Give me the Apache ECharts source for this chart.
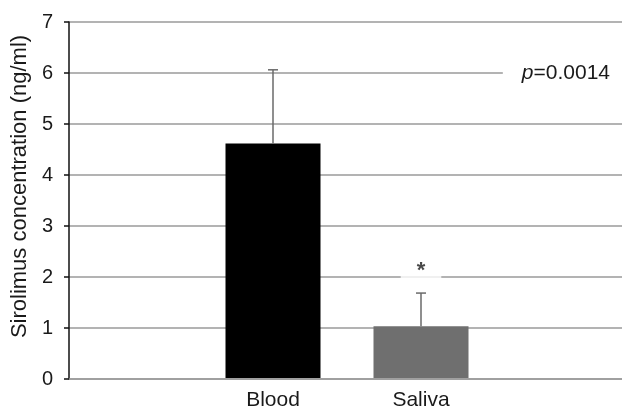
<!DOCTYPE html>
<html><head><meta charset="utf-8">
<script src="https://cdn.jsdelivr.net/npm/echarts@6/dist/echarts.min.js"></script>
<style>html,body{margin:0;padding:0;background:#fff}#c{width:622px;height:411px}</style>
</head><body><div id="c"></div>
<script>
var categories = ['Blood', 'Saliva'];
var means = [4.61, 1.02];
var upperErrors = [6.06, 1.67];
var barColors = ['#000000', '#6f6f6f'];
var yTicks = [0, 1, 2, 3, 4, 5, 6, 7];
var yTitle = 'Sirolimus concentration (ng/ml)';
var significance = ['', '*'];
var significanceLevel = 2.1;
var pText = 'p=0.0014';

var FONT = '"Liberation Sans", Arial, sans-serif';
var TXT = '#1a1a1a';
var chart = echarts.init(document.getElementById('c'), null, {renderer: 'canvas'});

var option = {
  animation: false,
  backgroundColor: '#ffffff',
  grid: [
    {left: 69, right: 0, top: 22, bottom: 32},
    {left: 199, width: 296, top: 22, bottom: 32}
  ],
  xAxis: [
    {gridIndex: 0, type: 'value', min: 0, max: 1, show: true,
     axisLine: {show: true, lineStyle: {color: '#9a9a9a', width: 1.5}},
     axisTick: {show: false}, axisLabel: {show: false}, splitLine: {show: false}},
    {gridIndex: 1, type: 'category', data: categories,
     axisLine: {show: false}, axisTick: {show: false},
     axisLabel: {color: TXT, fontFamily: FONT, fontSize: 21, margin: 12}}
  ],
  yAxis: [
    {gridIndex: 0, type: 'value', min: yTicks[0], max: yTicks[yTicks.length - 1], interval: 1,
     name: yTitle, nameLocation: 'middle', nameGap: 37,
     nameTextStyle: {color: TXT, fontFamily: FONT, fontSize: 22, padding: [0, 0, 0, 28]},
     axisLine: {show: true, onZero: false, lineStyle: {color: '#111', width: 1.5}},
     axisTick: {show: true, length: 5, lineStyle: {color: '#111', width: 1.5}},
     axisLabel: {color: TXT, fontFamily: FONT, fontSize: 20, margin: 16},
     splitLine: {show: true, lineStyle: {color: '#9a9a9a', width: 1.5}}},
    {gridIndex: 1, type: 'value', min: yTicks[0], max: yTicks[yTicks.length - 1], show: false}
  ],
  series: [
    {type: 'bar', xAxisIndex: 1, yAxisIndex: 1, barWidth: 95, z: 3,
     data: means.map(function (v, i) { return {value: v, itemStyle: {color: barColors[i]}}; })},
    {type: 'custom', xAxisIndex: 1, yAxisIndex: 1, z: 4,
     data: categories.map(function (c, i) { return [i, means[i], upperErrors[i]]; }),
     renderItem: function (params, api) {
       var lo = api.coord([api.value(0), api.value(1)]);
       var hi = api.coord([api.value(0), api.value(2)]);
       var cap = 5;
       var st = {stroke: '#6a6a6a', lineWidth: 1.5};
       return {type: 'group', children: [
         {type: 'line', shape: {x1: lo[0], y1: lo[1], x2: hi[0], y2: hi[1]}, style: st},
         {type: 'line', shape: {x1: hi[0] - cap, y1: hi[1], x2: hi[0] + cap, y2: hi[1]}, style: st}
       ]};
     }},
    {type: 'scatter', xAxisIndex: 1, yAxisIndex: 1, symbolSize: 0, z: 5,
     data: categories.map(function (c, i) { return significance[i] ? {value: [i, significanceLevel], name: significance[i]} : null; }).filter(Boolean),
     label: {show: true, position: 'inside', formatter: function (p) { return p.name; },
       color: TXT, fontFamily: FONT, fontSize: 22, fontWeight: 'bold', backgroundColor: '#ffffff',
       padding: [4, 16, 0, 16], lineHeight: 14}}
  ],
  graphic: [
    {type: 'text', right: 0, top: 61, z: 10,
     style: {text: '{i|p}{n|' + pText.slice(1) + '}',
       rich: {i: {fontStyle: 'italic', fontFamily: FONT, fontSize: 21, fill: TXT},
              n: {fontFamily: FONT, fontSize: 21, fill: TXT}},
       backgroundColor: '#ffffff', padding: [2, 12, 2, 19]}}
  ]
};
chart.setOption(option);
</script>
</body></html>
